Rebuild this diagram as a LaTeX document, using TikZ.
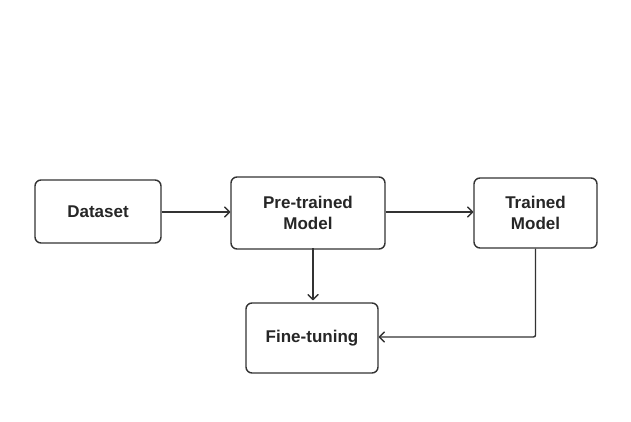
\documentclass[tikz,border=0pt]{standalone}
\usepackage{fontspec}
\setmainfont{Liberation Sans}
\usetikzlibrary{arrows.meta}
\begin{document}
\begin{tikzpicture}[x=1pt,y=1pt,
  box/.style={draw=black!80,line width=1.4pt,rounded corners=6pt,align=center,inner sep=0pt,
    font=\fontsize{17}{21}\selectfont\bfseries,text=black!85},
  arr/.style={draw=black!80,line width=1.4pt,-{Straight Barb[length=5pt,width=10pt,round]}}]
\useasboundingbox[fill=white] (0,0) rectangle (631,421);
\node[box,minimum width=126pt,minimum height=63pt] (ds) at (98,209.5) {Dataset};
\node[box,minimum width=154pt,minimum height=72pt] (pt) at (308,208) {Pre-trained\\Model};
\node[box,minimum width=123pt,minimum height=70pt] (tm) at (535.5,208) {Trained\\Model};
\node[box,minimum width=132pt,minimum height=70pt] (ft) at (312,83) {Fine-tuning};
\draw[arr] (ds.east|-0,209) -- (pt.west|-0,209);
\draw[arr] (pt.east|-0,209) -- (tm.west|-0,209);
\draw[arr] (313,173) -- ([yshift=2pt]ft.north-|313,0);
\draw[arr,rounded corners=2pt] (tm.south) |- (ft.east|-0,84);
\end{tikzpicture}
\end{document}
